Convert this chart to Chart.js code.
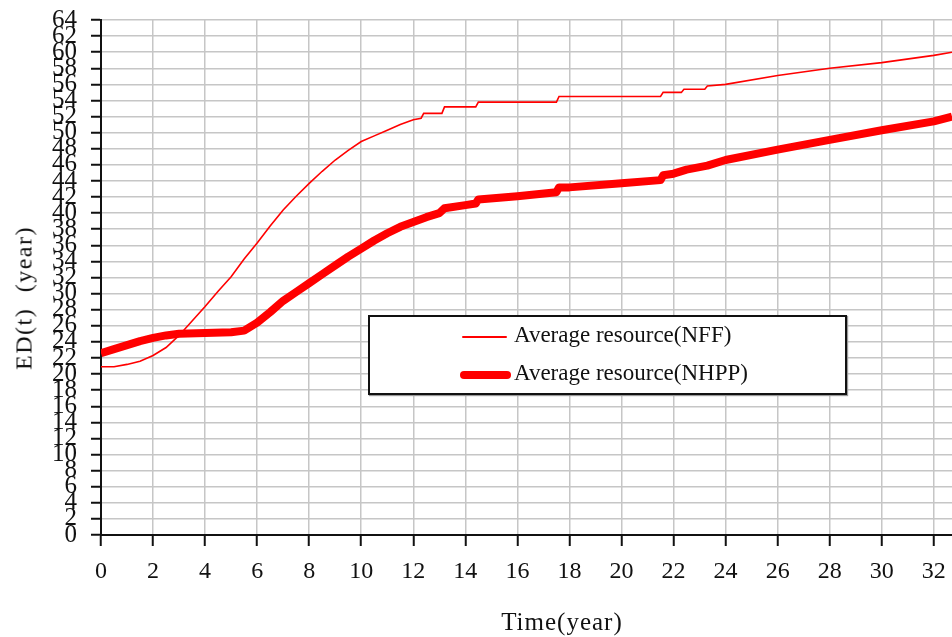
<!DOCTYPE html>
<html>
<head>
<meta charset="utf-8">
<script src="https://cdn.jsdelivr.net/npm/chart.js@4.4.0/dist/chart.umd.min.js"></script>
<style>
  body { margin: 0; background: #fff; }
  #wrap { position: relative; width: 952px; height: 637px; overflow: hidden; }
  .txt { position: absolute; font-family: 'Liberation Serif', serif; color: #111; white-space: nowrap; }
  #ytitle { left: 24px; top: 298px; font-size: 24px; letter-spacing: 1.5px; word-spacing: 8px; transform: translate(-50%, -50%) rotate(-90deg); }
  #xtitle { left: 562px; top: 622px; font-size: 25px; letter-spacing: 1px; transform: translate(-50%, -50%); }
  #legend { position: absolute; left: 368px; top: 315px; width: 475px; height: 76px; background: #fff; border: 2px solid #111; box-shadow: 1px 1px 1px #999; }
  .item { position: absolute; left: 90px; height: 30px; }
  .swatch { position: absolute; left: 0; width: 48px; background: #ff0000; border-radius: 4px; }
  .item span.lbl { position: absolute; left: 54px; top: 0; font-family: 'Liberation Serif', serif; font-size: 23px; white-space: nowrap; color: #111; }
</style>
</head>
<body>
<div id="wrap">
  <canvas id="chart" width="952" height="637"></canvas>
  <div class="txt" id="ytitle">ED(t) (year)</div>
  <div class="txt" id="xtitle">Time(year)</div>
  <div id="legend"></div>
</div>
<script>
// series
const seriesLabels = ['Average resource(NFF)', 'Average resource(NHPP)'];

const nffTime = [0, 0.5, 1, 1.5, 2, 2.5, 3, 3.5, 4, 4.5, 5, 5.5, 6, 6.5, 7, 7.5, 8, 8.5, 9, 9.5,
    10, 10.5, 11, 11.5, 12, 12.3, 12.4, 13.1, 13.2, 14.4, 14.5, 17.5, 17.6, 21.5, 21.6, 22.3, 22.4,
    23.2, 23.3, 24, 26, 28, 30, 32, 32.7];
const nffValues = [20.9, 20.9, 21.2, 21.6, 22.3, 23.3, 24.8, 26.6, 28.4, 30.3, 32.1, 34.3, 36.3, 38.4, 40.4, 42.1, 43.7, 45.2, 46.6, 47.8,
    48.9, 49.6, 50.3, 51.0, 51.6, 51.8, 52.4, 52.4, 53.2, 53.2, 53.8, 53.8, 54.5, 54.5, 55.0, 55.0, 55.4,
    55.4, 55.8, 56.0, 57.1, 58.0, 58.7, 59.6, 60.0];

const nhppTime = [0, 0.5, 1, 1.5, 2, 2.5, 3, 4, 5, 5.5, 6, 6.5, 7, 7.5, 8, 8.5, 9, 9.5, 10, 10.5,
    11, 11.5, 12, 12.5, 13, 13.2, 14, 14.4, 14.5, 16, 17.5, 17.6, 18, 20, 21.5, 21.6, 22, 22.5, 23.3,
    24, 26, 28, 30, 32, 32.7];
const nhppValues = [22.6, 23.1, 23.6, 24.1, 24.5, 24.8, 25.0, 25.1, 25.2, 25.4, 26.4, 27.7, 29.1, 30.2, 31.3, 32.4, 33.5, 34.6, 35.6, 36.6,
    37.5, 38.3, 38.9, 39.5, 40.0, 40.6, 41.0, 41.2, 41.7, 42.1, 42.6, 43.2, 43.2, 43.7, 44.1, 44.7, 44.9, 45.4, 45.9,
    46.6, 47.9, 49.1, 50.3, 51.4, 52.0];

const xMax = 32.7;
const yMax = 64;

const serif = 'Liberation Serif';

function toPoints(xs, ys) {
    return xs.map((x, i) => ({ x: x, y: ys[i] }));
}

const ctx = document.getElementById('chart');
new Chart(ctx, {
    type: 'line',
    data: {
        datasets: [{
            label: seriesLabels[0],
            data: toPoints(nffTime, nffValues),
            borderColor: '#ff0000',
            borderWidth: 1.6,
            pointRadius: 0,
            tension: 0,
            clip: 0
        }, {
            label: seriesLabels[1],
            data: toPoints(nhppTime, nhppValues),
            borderColor: '#ff0000',
            borderWidth: 8,
            borderJoinStyle: 'round',
            pointRadius: 0,
            tension: 0,
            clip: 0
        }]
    },
    options: {
        responsive: false,
        animation: false,
        layout: { padding: { top: 20, left: 0, right: 0, bottom: 0 } },
        scales: {
            x: {
                type: 'linear',
                min: 0,
                max: xMax,
                grid: { color: '#c6c6c6', lineWidth: 1.5, tickColor: '#111', tickLength: 11, tickWidth: 2 },
                border: { color: '#111', width: 2 },
                ticks: {
                    stepSize: 2,
                    includeBounds: false,
                    autoSkip: false,
                    maxRotation: 0,
                    padding: 11,
                    color: '#111',
                    font: { family: serif, size: 24 }
                },
                afterFit: (scale) => {
                    scale.height = 102;
                    scale.paddingLeft = 0;
                    scale.paddingRight = 0;
                }
            },
            y: {
                min: 0,
                max: yMax,
                grid: { color: '#c6c6c6', lineWidth: 1.5, tickColor: '#111', tickLength: 10, tickWidth: 2 },
                border: { color: '#111', width: 2 },
                ticks: {
                    stepSize: 2,
                    autoSkip: false,
                    padding: 14,
                    color: '#111',
                    font: { family: serif, size: 25 }
                },
                afterFit: (scale) => {
                    scale.width = 101;
                    scale.paddingTop = 0;
                    scale.paddingBottom = 0;
                }
            }
        },
        plugins: {
            legend: { display: false },
            tooltip: { enabled: false }
        }
    }
});

// legend box sits inside the plot, like the original
const legendBox = document.getElementById('legend');
const swatchHeights = [2, 8];
seriesLabels.forEach((label, i) => {
    const item = document.createElement('div');
    item.className = 'item';
    item.style.top = (i === 0 ? 5 : 43) + 'px';
    const sw = document.createElement('div');
    sw.className = 'swatch';
    sw.style.height = swatchHeights[i] + 'px';
    sw.style.top = (15 - swatchHeights[i] / 2) + 'px';
    sw.style.left = (i === 0 ? 2 : 0) + 'px';
    sw.style.width = (i === 0 ? 45 : 51) + 'px';
    const txt = document.createElement('span');
    txt.className = 'lbl';
    txt.textContent = label;
    item.appendChild(sw);
    item.appendChild(txt);
    legendBox.appendChild(item);
});
</script>
</body>
</html>
